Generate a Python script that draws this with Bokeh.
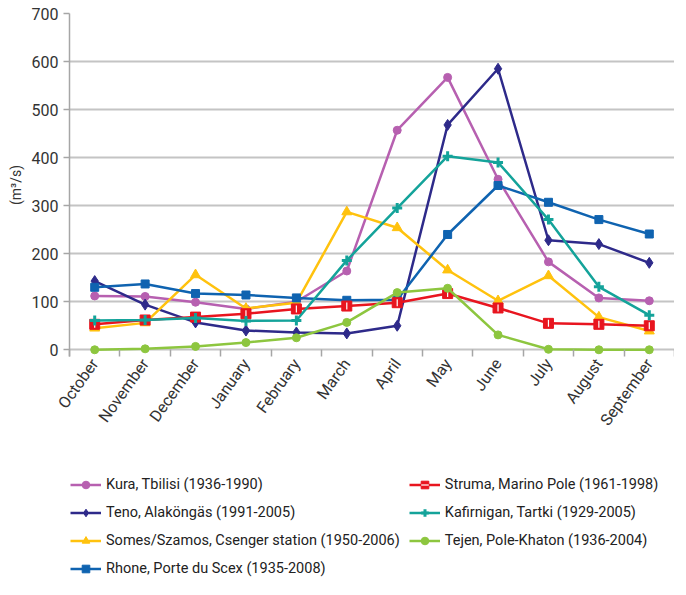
import math
from bokeh.plotting import figure
from bokeh.layouts import column
from bokeh.models import (Range1d, FixedTicker, Legend, LegendItem, Title,
                          ColumnDataSource, CustomJSTickFormatter)
from bokeh.embed import file_html
from bokeh.resources import INLINE

months = ["October", "November", "December", "January", "February", "March",
          "April", "May", "June", "July", "August", "September"]

kura = [112, 111, 99, 85, 100, 164, 457, 567, 355, 183, 108, 102]
teno = [143, 94, 57, 40, 36, 34, 50, 468, 585, 228, 220, 181]
somes = [45, 56, 156, 86, 98, 287, 254, 166, 102, 154, 68, 39]
rhone = [130, 137, 117, 114, 108, 103, 104, 240, 342, 307, 271, 241]
struma = [53, 62, 68, 75, 85, 91, 98, 117, 87, 55, 53, 50]
kafirnigan = [61, 62, 66, 60, 61, 186, 295, 403, 390, 271, 131, 72]
tejen = [0, 2, 7, 15, 25, 57, 119, 128, 31, 1, 0, 0]

series_names = ["Kura, Tbilisi (1936-1990)",
                "Teno, Alaköngäs (1991-2005)",
                "Somes/Szamos, Csenger station (1950-2006)",
                "Rhone, Porte du Scex (1935-2008)",
                "Struma, Marino Pole (1961-1998)",
                "Kafirnigan, Tartki (1929-2005)",
                "Tejen, Pole-Khaton (1936-2004)"]
series_values = [kura, teno, somes, rhone, struma, kafirnigan, tejen]
series_colors = ["#b760b0", "#2e2a8a", "#ffc20e", "#0f63b0",
                 "#e8151f", "#14a39a", "#8dc63f"]
series_markers = ["circle", "diamond", "triangle", "square",
                  "square", "cross", "circle"]
series_sizes = [8, 11, 10, 8, 10, 10, 8]

y_ticks = [0, 100, 200, 300, 400, 500, 600, 700]

FONT = "Roboto"

x_pos = [i + 0.5 for i in range(len(months))]

p = figure(frame_width=605, frame_height=343, output_backend="svg",
           toolbar_location=None,
           x_range=Range1d(0, len(months)), y_range=Range1d(-14, 700),
           min_border_top=13, min_border_left=65, min_border_right=0,
           min_border_bottom=109)
p.outline_line_color = None
p.background_fill_color = "white"
p.border_fill_color = "white"

# legend-only figure: same series, but its view range shows none of the data
q = figure(width=670, height=114, output_backend="svg", toolbar_location=None,
           x_axis_location=None, y_axis_location=None,
           x_range=Range1d(0, len(months)), y_range=Range1d(-2000, -1000),
           min_border_top=0, min_border_left=0, min_border_right=0,
           min_border_bottom=0)
q.outline_line_color = None
q.xgrid.visible = False
q.ygrid.visible = False


def add_series(fig, src, name, col, mk, sz):
    rs = [fig.line("x", "y", source=src, line_color=col, line_width=2.5)]
    if mk == "cross":
        rs.append(fig.scatter("x", "y", source=src, marker="cross", size=sz,
                              line_color=col, line_width=3))
    else:
        rs.append(fig.scatter("x", "y", source=src, marker=mk, size=sz,
                              fill_color=col, line_color=col))
    if name.startswith("Struma"):
        rs.append(fig.scatter("x", "y", source=src, marker="dash", size=7,
                              angle=math.pi / 2, line_color="white",
                              line_width=1.2))
    return rs


items = []
for name, vals, col, mk, sz in zip(series_names, series_values, series_colors,
                                   series_markers, series_sizes):
    src = ColumnDataSource(dict(x=x_pos, y=vals))
    add_series(p, src, name, col, mk, sz)
    rs = add_series(q, src, name, col, mk, sz)
    items.append(LegendItem(label=name, renderers=rs))

# axes
xa = p.xaxis[0]
xa.ticker = FixedTicker(ticks=x_pos, minor_ticks=list(range(len(months) + 1)))
xa.formatter = CustomJSTickFormatter(args=dict(months=months),
                                     code="return months[Math.floor(tick)] || '';")
xa.major_tick_out = 0
xa.major_tick_in = 0
xa.minor_tick_out = 0
xa.minor_tick_in = 7
xa.minor_tick_line_color = "#a6a6a6"
xa.minor_tick_line_width = 1.5
xa.axis_line_color = None
xa.major_label_orientation = 0.95
xa.major_label_text_font = FONT
xa.major_label_text_font_size = "16px"
xa.major_label_text_color = "#333333"
xa.major_label_standoff = 4

ya = p.yaxis[0]
ya.ticker = FixedTicker(ticks=y_ticks)
ya.major_tick_out = 6
ya.major_tick_in = 0
ya.minor_tick_out = 0
ya.minor_tick_in = 0
ya.major_tick_line_color = "#a6a6a6"
ya.major_tick_line_width = 1.5
ya.axis_line_color = "#a6a6a6"
ya.axis_line_width = 1.5
ya.major_label_text_font = FONT
ya.major_label_text_font_size = "16px"
ya.major_label_text_color = "#333333"
ya.major_label_standoff = 5

p.xgrid.visible = False
p.ygrid.ticker = FixedTicker(ticks=y_ticks)
p.ygrid.grid_line_color = "#c4c4c4"
p.ygrid.grid_line_width = 1.8

ytitle = Title(text="(m³/s)", align="center", text_font=FONT,
               text_font_size="14px", text_font_style="normal",
               text_color="#333333")
p.add_layout(ytitle, "left")

legend = Legend(items=items, location=(1, 1), orientation="vertical",
                nrows=4, glyph_width=31, glyph_height=19, label_height=19,
                label_width=20, label_standoff=5, spacing=9, padding=0,
                margin=0, label_text_font=FONT, label_text_font_size="14.5px",
                label_text_color="#222222", background_fill_alpha=0,
                border_line_alpha=0)
q.add_layout(legend)

layout = column(p, q, spacing=0)
open("out.html", "w").write(file_html(layout, INLINE))
